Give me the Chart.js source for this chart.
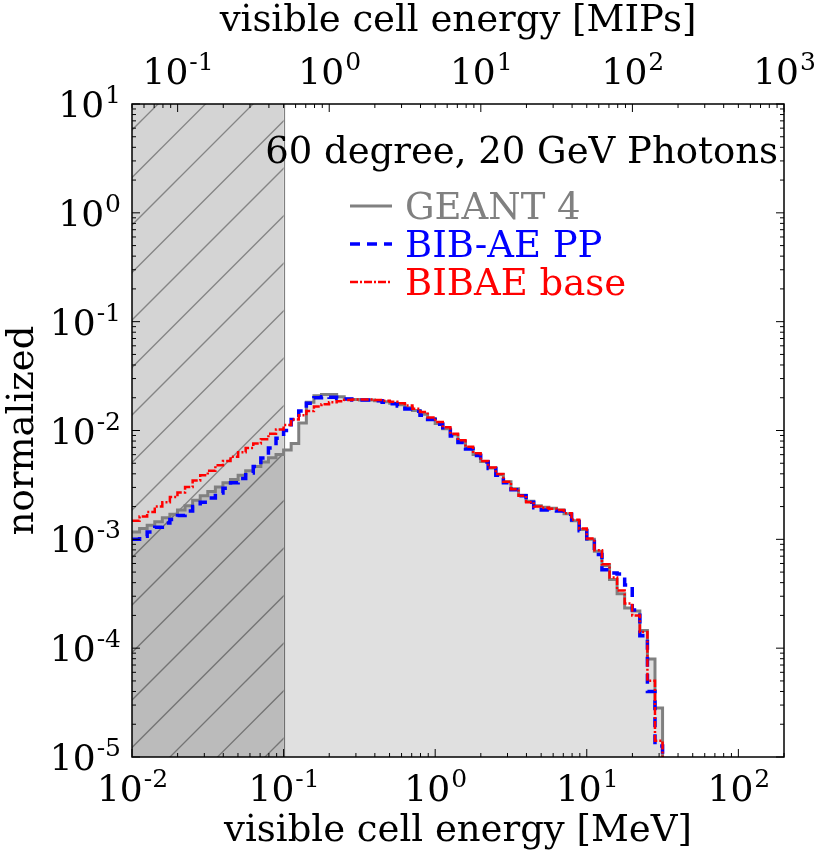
<!DOCTYPE html>
<html>
<head>
<meta charset="utf-8">
<script src="https://cdn.jsdelivr.net/npm/chart.js@4.4.0/dist/chart.umd.min.js"></script>
<style>
  html, body { margin: 0; padding: 0; background: #fff; }
  canvas { display: block; }
</style>
</head>
<body>
<canvas id="cellEnergy" width="820" height="853"></canvas>
<script>
// bin edges of the histograms, MeV
const binEdges = [
  0.01, 0.01122, 0.01259, 0.01413, 0.01585, 0.01778, 0.01995, 0.02239, 0.02512, 0.02818,
  0.03162, 0.03548, 0.03981, 0.04467, 0.05012, 0.05623, 0.0631, 0.07079, 0.07943, 0.08913,
  0.1, 0.1122, 0.1259, 0.1413, 0.1585, 0.1778, 0.1995, 0.2239, 0.2512, 0.2818,
  0.3162, 0.3548, 0.3981, 0.4467, 0.5012, 0.5623, 0.631, 0.7079, 0.7943, 0.8913,
  1, 1.122, 1.259, 1.413, 1.585, 1.778, 1.995, 2.239, 2.512, 2.818,
  3.162, 3.548, 3.981, 4.467, 5.012, 5.623, 6.31, 7.079, 7.943, 8.913,
  10, 11.22, 12.59, 14.13, 15.85, 17.78, 19.95, 22.39, 25.12, 28.18,
  31.62
];

// normalized counts per bin
const geant4 = [
  1.17e-3, 1.26e-3, 1.35e-3, 1.45e-3, 1.58e-3, 1.70e-3, 1.86e-3, 2.04e-3, 2.29e-3, 2.51e-3,
  2.75e-3, 3.02e-3, 3.31e-3, 3.55e-3, 3.89e-3, 4.27e-3, 4.68e-3, 5.13e-3, 5.62e-3, 6.03e-3,
  6.61e-3, 7.59e-3, 1.17e-2, 1.82e-2, 2.09e-2, 2.14e-2, 2.14e-2, 2.04e-2, 1.95e-2, 1.93e-2,
  1.91e-2, 1.91e-2, 1.88e-2, 1.84e-2, 1.78e-2, 1.72e-2, 1.62e-2, 1.53e-2, 1.41e-2, 1.29e-2,
  1.16e-2, 1.04e-2, 9.12e-3, 7.94e-3, 6.92e-3, 6.03e-3, 5.19e-3, 4.52e-3, 3.94e-3, 3.39e-3,
  2.92e-3, 2.54e-3, 2.24e-3, 2.04e-3, 1.97e-3, 1.93e-3, 1.86e-3, 1.72e-3, 1.48e-3, 1.23e-3,
  1.00e-3, 7.76e-4, 5.75e-4, 4.27e-4, 3.16e-4, 2.34e-4, 2.19e-4, 1.45e-4, 7.94e-5, 2.82e-5
];
const bibaePP = [
  1.00e-3, 1.07e-3, 1.17e-3, 1.29e-3, 1.41e-3, 1.52e-3, 1.66e-3, 1.82e-3, 2.00e-3, 2.19e-3,
  2.40e-3, 2.66e-3, 2.95e-3, 3.31e-3, 3.63e-3, 4.07e-3, 4.68e-3, 5.60e-3, 6.90e-3, 8.51e-3,
  1.00e-2, 1.26e-2, 1.51e-2, 1.78e-2, 2.00e-2, 2.04e-2, 2.02e-2, 1.97e-2, 1.95e-2, 1.91e-2,
  1.91e-2, 1.91e-2, 1.88e-2, 1.82e-2, 1.76e-2, 1.68e-2, 1.58e-2, 1.50e-2, 1.38e-2, 1.26e-2,
  1.14e-2, 1.01e-2, 8.91e-3, 7.76e-3, 6.76e-3, 5.89e-3, 5.13e-3, 4.47e-3, 3.89e-3, 3.31e-3,
  2.85e-3, 2.51e-3, 2.19e-3, 1.95e-3, 1.86e-3, 1.84e-3, 1.82e-3, 1.70e-3, 1.45e-3, 1.20e-3,
  9.55e-4, 7.24e-4, 5.25e-4, 4.90e-4, 4.79e-4, 3.80e-4, 2.24e-4, 1.30e-4, 4.00e-5, 1.26e-5
];
const bibaeBase = [
  1.48e-3, 1.62e-3, 1.78e-3, 2.00e-3, 2.19e-3, 2.45e-3, 2.69e-3, 3.02e-3, 3.47e-3, 3.89e-3,
  4.27e-3, 4.79e-3, 5.25e-3, 5.75e-3, 6.31e-3, 6.92e-3, 7.59e-3, 8.32e-3, 9.33e-3, 1.023e-2,
  1.122e-2, 1.259e-2, 1.38e-2, 1.51e-2, 1.66e-2, 1.74e-2, 1.82e-2, 1.86e-2, 1.91e-2, 1.93e-2,
  1.93e-2, 1.93e-2, 1.91e-2, 1.88e-2, 1.84e-2, 1.78e-2, 1.70e-2, 1.585e-2, 1.48e-2, 1.32e-2,
  1.20e-2, 1.07e-2, 9.33e-3, 8.13e-3, 7.08e-3, 6.17e-3, 5.25e-3, 4.57e-3, 3.98e-3, 3.39e-3,
  2.88e-3, 2.51e-3, 2.19e-3, 2.00e-3, 1.95e-3, 1.91e-3, 1.86e-3, 1.74e-3, 1.51e-3, 1.26e-3,
  1.02e-3, 7.94e-4, 5.89e-4, 4.47e-4, 3.39e-4, 2.57e-4, 2.00e-4, 1.41e-4, 5.01e-5, 1.41e-5
];

const seriesNames = ["GEANT 4", "BIB-AE PP", "BIBAE base"];
const seriesColors = ["#808080", "#0000ff", "#ff0000"];

// axis ranges and tick exponents
const meVRange = [0.01, 200];
const mipRange = [0.05, 1000];
const yRange = [1e-5, 10];
const meVExponents = [-2, -1, 0, 1, 2];
const mipExponents = [-1, 0, 1, 2, 3];
const yExponents = [1, 0, -1, -2, -3, -4, -5];
const cutMeV = 0.1; // half a MIP, hatched region below it

const titleText = "60 degree, 20 GeV Photons";
const xTitle = "visible cell energy [MeV]";
const x2Title = "visible cell energy [MIPs]";
const yTitle = "normalized";

const FONT = '"DejaVu Serif", "Liberation Serif", serif';

// histogram as stepped points: low edge of each bin, then closing edge
function histPoints(vals) {
  const pts = vals.map((v, i) => ({ x: binEdges[i], y: v }));
  const n = vals.length;
  pts.push({ x: binEdges[n], y: vals[n - 1] });
  pts.push({ x: binEdges[n], y: 1e-7 });
  return pts;
}

function logTicks(min, max) {
  const major = [], minor = [];
  for (let e = Math.floor(Math.log10(min)); e <= Math.ceil(Math.log10(max)); e++) {
    for (let m = 1; m < 10; m++) {
      const v = m * Math.pow(10, e);
      if (v < min * 0.999 || v > max * 1.001) continue;
      (m === 1 ? major : minor).push(v);
    }
  }
  return { major, minor };
}

function drawPower(ctx, exp, x, y, align) {
  const base = "10";
  const sup = String(exp);
  ctx.font = "36px " + FONT;
  const wb = ctx.measureText(base).width;
  ctx.font = "25px " + FONT;
  const ws = ctx.measureText(sup).width;
  const w = wb + ws;
  const x0 = align === "center" ? x - w / 2 : align === "right" ? x - w : x;
  ctx.textAlign = "left";
  ctx.textBaseline = "alphabetic";
  ctx.fillStyle = "#000";
  ctx.font = "36px " + FONT;
  ctx.fillText(base, x0, y);
  ctx.font = "25px " + FONT;
  ctx.fillText(sup, x0 + wb + 1, y - 14);
}

const hatchPlugin = {
  id: "hatch",
  beforeDatasetsDraw(chart) {
    const { ctx, chartArea: a, scales } = chart;
    const xr = scales.x.getPixelForValue(cutMeV);
    const xl = a.left;
    ctx.save();
    ctx.fillStyle = "rgba(0,0,0,0.17)";
    ctx.fillRect(xl, a.top, xr - xl, a.bottom - a.top);
    ctx.beginPath();
    ctx.rect(xl, a.top, xr - xl, a.bottom - a.top);
    ctx.clip();
    ctx.strokeStyle = "#858585";
    ctx.lineWidth = 1.3;
    const step = 47.5;
    let c = 262 - step * Math.ceil((262 - (xl + a.top)) / step);
    for (; c < xr + a.bottom + step; c += step) {
      ctx.beginPath();
      ctx.moveTo(xl - 10, c - xl + 10);
      ctx.lineTo(c - a.top + 10, a.top - 10);
      ctx.stroke();
    }
    ctx.restore();
    ctx.save();
    ctx.strokeStyle = "#808080";
    ctx.lineWidth = 1.2;
    ctx.beginPath();
    ctx.moveTo(Math.round(xr) + 0.5, a.top);
    ctx.lineTo(Math.round(xr) + 0.5, a.bottom);
    ctx.stroke();
    ctx.restore();
  }
};

const framePlugin = {
  id: "frame",
  afterDraw(chart) {
    const { ctx, chartArea: a, scales } = chart;
    ctx.save();
    ctx.strokeStyle = "#000";
    ctx.lineWidth = 1.5;
    ctx.strokeRect(a.left, a.top, a.right - a.left, a.bottom - a.top);

    // inward ticks
    ctx.lineWidth = 1;
    const tick = (x1, y1, x2, y2) => {
      ctx.beginPath();
      ctx.moveTo(x1, y1);
      ctx.lineTo(x2, y2);
      ctx.stroke();
    };
    const xt = logTicks(meVRange[0], meVRange[1]);
    xt.major.forEach(v => { const p = scales.x.getPixelForValue(v); tick(p, a.bottom, p, a.bottom - 8); });
    xt.minor.forEach(v => { const p = scales.x.getPixelForValue(v); tick(p, a.bottom, p, a.bottom - 4); });
    const mt = logTicks(mipRange[0], mipRange[1]);
    mt.major.forEach(v => { const p = scales.x2.getPixelForValue(v); tick(p, a.top, p, a.top + 8); });
    mt.minor.forEach(v => { const p = scales.x2.getPixelForValue(v); tick(p, a.top, p, a.top + 4); });
    const yt = logTicks(yRange[0], yRange[1]);
    yt.major.forEach(v => {
      const p = scales.y.getPixelForValue(v);
      tick(a.left, p, a.left + 8, p);
      tick(a.right, p, a.right - 8, p);
    });
    yt.minor.forEach(v => {
      const p = scales.y.getPixelForValue(v);
      tick(a.left, p, a.left + 4, p);
      tick(a.right, p, a.right - 4, p);
    });

    // tick labels
    meVExponents.forEach(e => drawPower(ctx, e, scales.x.getPixelForValue(Math.pow(10, e)), a.bottom + 44, "center"));
    mipExponents.forEach(e => drawPower(ctx, e, scales.x2.getPixelForValue(Math.pow(10, e)), a.top - 20, "center"));
    yExponents.forEach(e => drawPower(ctx, e, a.left - 12, scales.y.getPixelForValue(Math.pow(10, e)) + 13, "right"));

    // axis titles
    ctx.fillStyle = "#000";
    ctx.font = "37px " + FONT;
    ctx.textAlign = "center";
    ctx.textBaseline = "alphabetic";
    const midX = (a.left + a.right) / 2;
    ctx.fillText(xTitle, midX, 841);
    ctx.fillText(x2Title, midX, 31);
    ctx.save();
    ctx.translate(33, (a.top + a.bottom) / 2);
    ctx.rotate(-Math.PI / 2);
    ctx.fillText(yTitle, 0, 0);
    ctx.restore();

    // annotation
    ctx.textAlign = "right";
    ctx.fillText(titleText, a.right - 6, 163);

    // legend
    const dashes = [[], [10, 7], [8, 2, 2, 2]];
    const widths = [3, 3.5, 2.5];
    const rows = [206, 244, 282];
    ctx.textAlign = "left";
    seriesNames.forEach((name, i) => {
      ctx.strokeStyle = seriesColors[i];
      ctx.lineWidth = widths[i];
      ctx.setLineDash(dashes[i]);
      ctx.beginPath();
      ctx.moveTo(350, rows[i]);
      ctx.lineTo(392, rows[i]);
      ctx.stroke();
      ctx.setLineDash([]);
      ctx.fillStyle = seriesColors[i];
      ctx.fillText(name, 405, rows[i] + 13);
    });
    ctx.restore();
  }
};

const chart = new Chart(document.getElementById("cellEnergy").getContext("2d"), {
  type: "line",
  data: {
    datasets: [
      {
        label: seriesNames[2],
        data: histPoints(bibaeBase),
        borderColor: seriesColors[2],
        borderWidth: 2.5,
        borderDash: [8, 2, 2, 2],
        stepped: "before",
        pointRadius: 0,
        fill: false,
        order: 1,
        xAxisID: "x",
        yAxisID: "y",
      },
      {
        label: seriesNames[1],
        data: histPoints(bibaePP),
        borderColor: seriesColors[1],
        borderWidth: 3.5,
        borderDash: [10, 7],
        stepped: "before",
        pointRadius: 0,
        fill: false,
        order: 2,
        xAxisID: "x",
        yAxisID: "y",
      },
      {
        label: seriesNames[0],
        data: histPoints(geant4),
        borderColor: seriesColors[0],
        borderWidth: 3,
        backgroundColor: "rgba(0,0,0,0.12)",
        stepped: "before",
        pointRadius: 0,
        fill: "start",
        order: 3,
        xAxisID: "x",
        yAxisID: "y",
      },
    ],
  },
  options: {
    responsive: false,
    animation: false,
    devicePixelRatio: 1,
    layout: { padding: { left: 132, top: 104, right: 36, bottom: 96 } },
    plugins: {
      legend: { display: false },
      tooltip: { enabled: false },
    },
    scales: {
      x: { type: "logarithmic", min: meVRange[0], max: meVRange[1], display: false },
      x2: { type: "logarithmic", position: "top", min: mipRange[0], max: mipRange[1], display: false },
      y: { type: "logarithmic", min: yRange[0], max: yRange[1], display: false },
    },
  },
  plugins: [hatchPlugin, framePlugin],
});
</script>
</body>
</html>
